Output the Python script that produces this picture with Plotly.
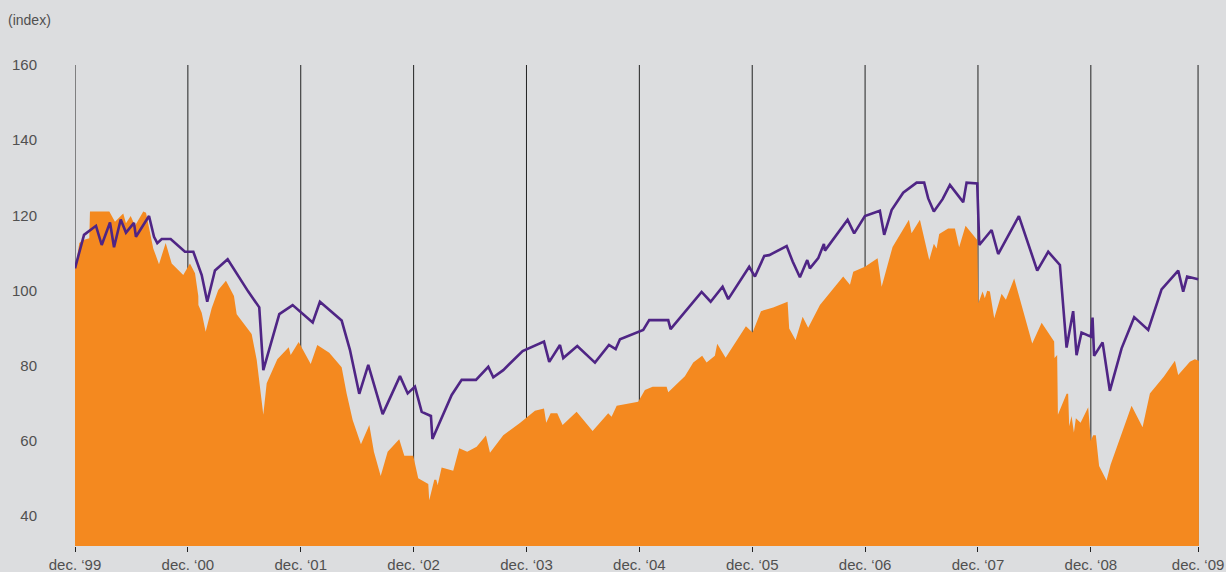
import plotly.graph_objects as go

# months since December 1999
purple_x = [0, 0.96, 2.23, 2.84, 3.72, 4.15, 4.86, 5.42, 6.27, 6.48, 7.87, 8.40, 8.75, 9.22, 10.17,
            11.69, 12.58, 13.47, 14.06, 14.88, 16.23, 18.42, 19.59, 20.02, 21.72, 23.14, 25.27, 26.04,
            28.35, 29.23, 30.22, 31.18, 32.71, 34.55, 35.37, 36.14, 36.86, 37.84, 38.0, 40.05, 41.11,
            42.63, 43.94, 44.47, 45.53, 47.59, 49.86, 50.42, 51.56, 51.91, 53.40, 55.28, 56.77, 57.48,
            57.94, 60.41, 61.05, 63.07, 63.32, 66.62, 67.58, 68.85, 69.45, 71.68, 72.29, 73.28, 73.81,
            75.66, 76.30, 77.07, 77.85, 78.13, 79.02, 79.62, 79.73, 82.14, 82.84, 83.98, 85.57, 86.03,
            86.82, 88.05, 89.48, 90.28, 90.71, 91.31, 92.24, 93.02, 94.43, 94.79, 95.92, 96.14, 97.45,
            98.15, 100.35, 102.30, 103.47, 104.71, 105.42, 106.12, 106.48, 107.01, 108.0, 108.18,
            108.35, 109.25, 110.02, 111.27, 112.61, 114.10, 115.52, 117.29, 117.82, 118.24, 119.41]
purple_y = [105.9, 114.8, 117.2, 112.1, 118.1, 111.5, 118.9, 115.4, 118.0, 114.3, 119.8, 114.3, 112.6,
            113.7, 113.7, 110.3, 110.3, 104.1, 97.0, 105.3, 108.3, 99.7, 95.5, 78.8, 93.7, 96.1, 91.5,
            97.0, 92.0, 84.2, 72.5, 80.2, 67.1, 77.2, 72.6, 74.4, 67.7, 66.6, 60.5, 72.2, 76.2, 76.2,
            79.7, 76.9, 78.8, 83.9, 86.4, 81.0, 85.5, 82.0, 85.2, 80.8, 85.5, 84.4, 87.0, 89.5, 92.1,
            92.1, 89.7, 99.6, 97.0, 101.0, 97.7, 106.3, 103.7, 109.2, 109.4, 111.8, 107.7, 103.5, 108.1,
            105.9, 108.6, 112.4, 110.6, 118.8, 115.2, 119.8, 121.2, 114.8, 121.4, 126.0, 128.7, 128.7,
            124.5, 121.0, 124.3, 128.1, 123.5, 128.7, 128.5, 112.1, 116.1, 109.7, 119.8, 105.3, 110.3,
            106.8, 84.8, 94.5, 82.8, 88.8, 87.7, 92.8, 82.6, 86.2, 73.3, 84.6, 92.9, 89.5, 100.3, 105.3,
            99.7, 103.7, 103.0]

orange_x = [0, 0.46, 0.88, 1.52, 1.59, 3.65, 4.25, 4.78, 5.13, 5.42, 5.92, 6.38, 7.26, 7.55, 7.79,
            8.32, 8.93, 9.64, 10.28, 11.51, 12.22, 12.76, 13.11, 13.12, 13.47, 13.89, 14.53, 15.23,
            16.05, 16.90, 17.19, 17.89, 18.78, 19.32, 19.74, 20.02, 20.38, 21.51, 22.72, 22.93, 23.78,
            25.06, 25.76, 27.03, 28.35, 28.88, 29.52, 30.40, 31.29, 31.78, 32.50, 33.24, 34.47, 35.01,
            35.96, 36.49, 37.56, 37.66, 38.2, 38.41, 38.56, 38.98, 40.21, 40.85, 41.70, 42.70, 43.69,
            44.12, 45.53, 47.30, 48.90, 49.86, 50.10, 50.57, 51.27, 51.84, 53.33, 55.03, 56.69, 57.05,
            57.59, 59.88, 60.59, 61.41, 62.90, 63.07, 64.84, 65.73, 66.68, 67.15, 68.03, 68.28, 69.17,
            71.33, 72.04, 72.93, 74.23, 75.76, 75.93, 76.61, 77.36, 77.95, 79.20, 81.67, 82.39, 82.74,
            83.98, 85.33, 85.76, 86.92, 88.66, 88.94, 89.83, 90.82, 91.31, 91.60, 91.88, 92.83, 93.55,
            94.00, 94.68, 95.92, 96.04, 96.49, 96.73, 96.98, 97.27, 97.73, 98.51, 98.97, 99.85, 101.77,
            102.77, 104.10, 104.14, 104.42, 104.5, 105.42, 105.59, 105.70, 105.95, 106.20, 106.41,
            106.91, 107.72, 108.0, 108.25, 108.53, 108.88, 109.67, 110.10, 112.33, 113.50, 114.28,
            115.77, 116.94, 117.29, 118.53, 119.06, 119.49]
orange_y = [105.5, 112.6, 113.4, 113.9, 121.0, 121.0, 118.3, 119.6, 120.5, 117.9, 119.8, 117.2, 121.0,
            120.7, 117.4, 111.2, 107.0, 112.6, 107.2, 104.1, 107.2, 104.6, 98.5, 96.1, 94.1, 89.0, 95.3,
            100.1, 102.6, 98.5, 93.7, 91.4, 88.4, 81.5, 73.5, 66.9, 75.3, 81.7, 84.9, 82.8, 86.3, 80.4,
            85.5, 83.4, 79.6, 72.6, 65.5, 59.1, 64.2, 57.1, 50.6, 57.1, 60.4, 56.0, 56.0, 50.0, 48.5,
            44.2, 49.6, 49.6, 48.2, 52.9, 52.0, 58.0, 57.1, 58.4, 61.4, 56.8, 61.5, 64.7, 68.0, 68.6,
            64.8, 67.3, 67.3, 64.2, 67.7, 62.6, 67.3, 66.4, 69.3, 70.4, 73.5, 74.4, 74.4, 72.9, 77.2,
            80.8, 82.6, 80.8, 82.6, 85.8, 82.1, 90.5, 88.8, 94.5, 95.5, 97.0, 89.9, 86.8, 93.0, 90.1,
            96.1, 103.7, 101.5, 105.0, 106.3, 108.6, 101.0, 111.6, 118.8, 115.2, 118.8, 108.1, 112.4,
            111.2, 115.0, 116.5, 116.5, 111.5, 117.2, 113.4, 96.6, 99.7, 97.9, 99.9, 99.7, 92.6, 99.1,
            97.5, 103.2, 85.9, 91.4, 86.4, 82.0, 82.8, 66.9, 72.5, 72.5, 63.9, 66.6, 62.2, 66.0, 64.8,
            68.9, 60.0, 61.5, 61.5, 53.3, 49.4, 53.6, 69.3, 63.6, 72.6, 77.1, 81.3, 77.5, 81.0, 81.7,
            81.3]

tick_vals = [0, 12, 24, 36, 48, 60, 72, 84, 96, 108, 119.4]
tick_text = ["dec. \u201899", "dec. \u201800", "dec. \u201801", "dec. \u201802", "dec. \u201803",
             "dec. \u201804", "dec. \u201805", "dec. \u201806", "dec. \u201807", "dec. \u201808",
             "dec. \u201809"]
y_ticks = [40, 60, 80, 100, 120, 140, 160]

BG = "#dcdddf"
ORANGE = "#f4891f"
PURPLE = "#4f2585"
FONT = "Liberation Sans, Arial, sans-serif"
TXT = "#505050"

fig = go.Figure()
fig.add_trace(go.Scatter(x=orange_x, y=orange_y, mode="lines", fill="tozeroy",
                         fillcolor=ORANGE, line=dict(color=ORANGE, width=0),
                         hoverinfo="skip", showlegend=False))
fig.add_trace(go.Scatter(x=purple_x, y=purple_y, mode="lines",
                         line=dict(color=PURPLE, width=2.6),
                         showlegend=False))

# vertical year separators, drawn beneath the data
shapes = [dict(type="line", xref="x", yref="paper", x0=v, x1=v, y0=0, y1=1,
               layer="below", line=dict(color="#222222", width=1)) for v in tick_vals]

fig.update_layout(
    width=1226, height=572,
    margin=dict(l=75, r=27, t=65, b=26, autoexpand=False),
    paper_bgcolor=BG, plot_bgcolor=BG,
    font=dict(family=FONT, size=15, color=TXT),
    xaxis=dict(range=[0, 119.5], tickmode="array", tickvals=tick_vals, ticktext=tick_text,
               showgrid=False,
               ticks="outside", ticklen=5, tickcolor="#222222", tickwidth=1,
               showline=False, zeroline=False, automargin=False,
               tickfont=dict(size=15, color=TXT)),
    yaxis=dict(range=[32, 160], tickmode="array", tickvals=y_ticks,
               showgrid=False, zeroline=False, showline=False, ticks="",
               ticklabelstandoff=37, automargin=False,
               tickfont=dict(size=15, color=TXT)),
    shapes=shapes,
    annotations=[dict(text="(index)", xref="paper", yref="paper", x=-0.0618, y=1.094,
                      xanchor="left", yanchor="middle", showarrow=False,
                      font=dict(size=14, color=TXT, family=FONT))],
)

fig.write_html(
    "out.html",
    config={"displayModeBar": False},
    post_script="document.body.style.margin='0';document.body.style.background='%s';" % BG,
)
